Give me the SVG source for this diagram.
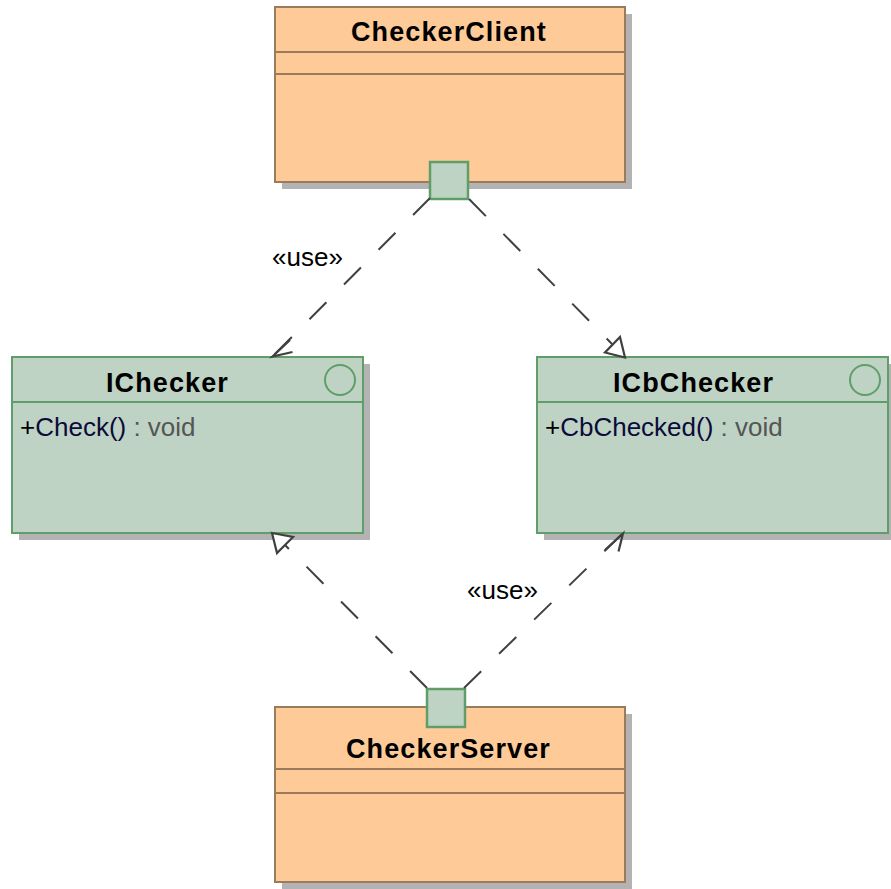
<svg xmlns="http://www.w3.org/2000/svg" width="891" height="889" viewBox="0 0 891 889">
<style>
.shadow{fill:#b3b3b3;stroke:none}
.cls{fill:#fecb98;stroke:#9c7b5c;stroke-width:2}
.sep{stroke:#9c7b5c;stroke-width:2}
.ifc{fill:#bed3c3;stroke:#5f9e69;stroke-width:2}
.isep{stroke:#5f9e69;stroke-width:2}
.icon{fill:none;stroke:#5f9e69;stroke-width:2}
.port{fill:#bed3c3;stroke:#5f9e69;stroke-width:2.5}
.title{font-family:"Liberation Sans",Arial,sans-serif;font-weight:bold;font-size:27px;letter-spacing:1.1px;fill:#000}
.op{font-family:"Liberation Sans",Arial,sans-serif;font-size:26px;fill:#0b0b3b}
.type{fill:#555555}
.plus{fill:#000}
.lbl{font-family:"Liberation Sans",Arial,sans-serif;font-size:26px;fill:#000}
.dash{fill:none;stroke:#404040;stroke-width:2;stroke-dasharray:24 25}
.head{fill:none;stroke:#404040;stroke-width:2.2;stroke-linejoin:miter}
.tri{fill:#fff;stroke:#404040;stroke-width:2.2}
</style>

<g id="CheckerClient">
<rect class="shadow" x="282" y="14" width="350" height="175"/>
<rect class="cls" x="275" y="7" width="350" height="175"/>
<line class="sep" x1="275" y1="52" x2="625" y2="52"/>
<line class="sep" x1="275" y1="74" x2="625" y2="74"/>
<text class="title" x="351" y="41">CheckerClient</text>
</g>

<g id="IChecker">
<rect class="shadow" x="19" y="364" width="351" height="176"/>
<rect class="ifc" x="12" y="357" width="351" height="176"/>
<line class="isep" x1="12" y1="402" x2="363" y2="402"/>
<circle class="icon" cx="340" cy="380" r="15"/>
<text class="title" x="106" y="392">IChecker</text>
<text class="op" x="20" y="436"><tspan class="plus">+</tspan>Check()<tspan class="type"> : void</tspan></text>
</g>

<g id="ICbChecker">
<rect class="shadow" x="544" y="364" width="351" height="176"/>
<rect class="ifc" x="537" y="357" width="351" height="176"/>
<line class="isep" x1="537" y1="402" x2="888" y2="402"/>
<circle class="icon" cx="865" cy="380" r="15"/>
<text class="title" x="613" y="392">ICbChecker</text>
<text class="op" x="545" y="436"><tspan class="plus">+</tspan>CbChecked()<tspan class="type"> : void</tspan></text>
</g>

<g id="CheckerServer">
<rect class="shadow" x="282" y="714" width="350" height="175"/>
<rect class="cls" x="275" y="707" width="350" height="175"/>
<line class="sep" x1="275" y1="769" x2="625" y2="769"/>
<line class="sep" x1="275" y1="793" x2="625" y2="793"/>
<text class="title" x="346" y="758">CheckerServer</text>
</g>

<g id="ClientPort">
<rect class="port" x="430" y="162" width="38" height="37"/>
</g>

<g id="ServerPort">
<rect class="port" x="427" y="689" width="38" height="38"/>
</g>

<g id="connectors">
<!-- Client -> IChecker (use) -->
<path class="dash" d="M430,198 L273,356"/>
<path class="head" d="M290,340 L272.5,356.5 L292.5,352"/>
<text class="lbl" x="272" y="266">«use»</text>
<!-- Client -> ICbChecker (realization) -->
<path class="dash" d="M469,199 L612,344"/>
<path class="tri" d="M625,357.5 L620,337 L605,352.5 Z"/>
<!-- Server -> IChecker (realization) -->
<path class="dash" d="M427,688 L285,545"/>
<path class="tri" d="M272,533 L293,537 L277,553 Z"/>
<!-- Server -> ICbChecker (use) -->
<path class="dash" d="M464,688 L622,534"/>
<path class="head" d="M605,550 L623,533.5 L618.5,551.5"/>
<text class="lbl" x="467" y="599">«use»</text>
</g>
</svg>
